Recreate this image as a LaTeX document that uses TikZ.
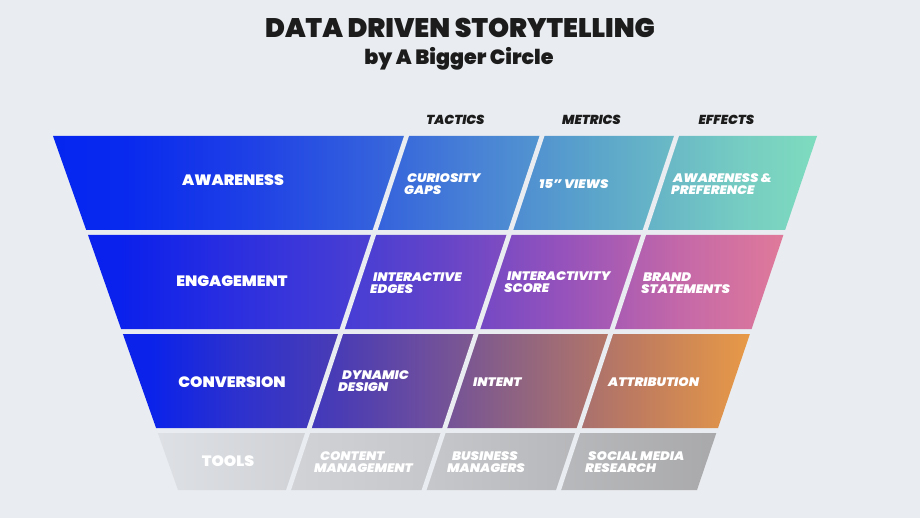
\documentclass[tikz,border=0pt]{standalone}
\usepackage{fontspec}
\setmainfont{Poppins}
\newfontfamily\pblack{Poppins Black}
\newfontfamily\pblackw{Poppins Black}[FakeStretch=1.05]
\newfontfamily\pblackit{Poppins Black Italic}
\newfontfamily\pblackitw{Poppins Black Italic}[FakeStretch=1.07]
\definecolor{bg}{HTML}{E9ECF0}
\definecolor{ink}{HTML}{1C1C1C}
% row 1
\definecolor{ra1}{HTML}{0526EF}\definecolor{ra2}{HTML}{0829EE}\definecolor{ra3}{HTML}{1E40E6}
\definecolor{ra4}{HTML}{3563DC}\definecolor{ra5}{HTML}{4780D6}\definecolor{ra6}{HTML}{5CA6CA}
\definecolor{ra7}{HTML}{76CCC2}\definecolor{ra8}{HTML}{7EDCBE}
% row 2
\definecolor{rb1}{HTML}{0A20EC}\definecolor{rb3}{HTML}{2A2EE0}\definecolor{rb4}{HTML}{4C3FD2}
\definecolor{rb5}{HTML}{6444C8}\definecolor{rb6}{HTML}{9452BC}\definecolor{rb7}{HTML}{C468A8}
\definecolor{rb8}{HTML}{E07A9A}
% row 3
\definecolor{rc1}{HTML}{0A22EA}\definecolor{rc3}{HTML}{2A30D0}\definecolor{rc4}{HTML}{4A3CB4}
\definecolor{rc5}{HTML}{6A4CA0}\definecolor{rc6}{HTML}{906480}\definecolor{rc7}{HTML}{C07C5E}
\definecolor{rc8}{HTML}{E89A46}
% row 4
\definecolor{rd1}{HTML}{DDE0E4}\definecolor{rd2}{HTML}{D0D2D6}\definecolor{rd3}{HTML}{C6C7CA}
\definecolor{rd4}{HTML}{B8B9BC}\definecolor{rd5}{HTML}{A9A9AB}
\pgfdeclarehorizontalshading{rowA}{100bp}{color(0bp)=(ra1); color(25bp)=(ra1); color(29.4bp)=(ra2);
  color(37.9bp)=(ra3); color(46.4bp)=(ra4); color(52.3bp)=(ra5); color(60.8bp)=(ra6);
  color(70bp)=(ra7); color(75bp)=(ra8); color(100bp)=(ra8)}
\pgfdeclarehorizontalshading{rowB}{100bp}{color(0bp)=(rb1); color(27.3bp)=(rb1);
  color(35.2bp)=(rb3); color(45.3bp)=(rb4); color(50.3bp)=(rb5); color(58.9bp)=(rb6);
  color(67.6bp)=(rb7); color(75bp)=(rb8); color(100bp)=(rb8)}
\pgfdeclarehorizontalshading{rowC}{100bp}{color(0bp)=(rc1); color(27.2bp)=(rc1);
  color(33.5bp)=(rc3); color(42.3bp)=(rc4); color(48.7bp)=(rc5); color(56.7bp)=(rc6);
  color(66.2bp)=(rc7); color(75bp)=(rc8); color(100bp)=(rc8)}
\pgfdeclarehorizontalshading{rowD}{100bp}{color(0bp)=(rd1); color(25bp)=(rd1);
  color(37.7bp)=(rd2); color(49.4bp)=(rd3); color(61bp)=(rd4); color(75bp)=(rd5); color(100bp)=(rd5)}
\begin{document}
\begin{tikzpicture}[x=1pt,y=-1pt,
  rowtitle/.style={text=white, font=\pblackw\fontsize{15}{15}\selectfont, inner sep=0pt},
  celltext/.style={text=white, font=\pblackitw\fontsize{12.3}{11.8}\selectfont, align=left, anchor=west, inner sep=0pt},
  header/.style={text=ink, font=\pblackit\fontsize{13}{13}\selectfont, inner sep=0pt},
  gapline/.style={draw=bg, line width=4.7pt}]
\fill[bg] (0,0) rectangle (920,518);
\useasboundingbox (0,0) rectangle (920,518);
% title
\node[text=ink, font=\pblack\fontsize{26.8}{26.8}\selectfont, inner sep=0pt] (title) at (460,28) {DATA DRIVEN STORYTELLING};
\node[text=ink, font=\pblack\fontsize{20.6}{20.6}\selectfont, inner sep=0pt, anchor=base] (subtitle) at (459,65) {by A Bigger Circle};
% headers
\node[header] (tactics) at (455.5,120) {TACTICS};
\node[header] (metrics) at (591.5,120) {METRICS};
\node[header] (effects) at (726.5,120) {EFFECTS};
% rows
\shade[shading=rowA] (53,136) -- (817,136) -- (785.1,230) -- (86.2,230) -- cycle;
\shade[shading=rowB] (88,235) -- (783.4,235) -- (751.6,329) -- (121.1,329) -- cycle;
\shade[shading=rowC] (122.9,334) -- (749.9,334) -- (718,428) -- (156.1,428) -- cycle;
\shade[shading=rowD] (157.8,433) -- (716.3,433) -- (697,490) -- (178,490) -- cycle;
% slanted gaps
\draw[gapline] (408.5,130) -- (286.6,496);
\draw[gapline] (544,130) -- (422.1,496);
\draw[gapline] (678.5,130) -- (556.6,496);
% row titles
\node[rowtitle] (aw) at (233,180) {AWARENESS};
\node[rowtitle] (en) at (232,281) {ENGAGEMENT};
\node[rowtitle] (co) at (232,382) {CONVERSION};
\node[rowtitle] (to) at (228,461) {TOOLS};
% cells
\node[celltext] (c11) at (404,184.5) {\hspace*{3pt}CURIOSITY\\GAPS};
\node[celltext] (c12) at (539,184) {15” VIEWS};
\node[celltext] (c13) at (671,184.5) {\hspace*{2pt}AWARENESS \&\\PREFERENCE};
\node[celltext] (c21) at (370,283) {\hspace*{3pt}INTERACTIVE\\EDGES};
\node[celltext] (c22) at (504,282.5) {\hspace*{3pt}INTERACTIVITY\\SCORE};
\node[celltext] (c23) at (641,283) {\hspace*{2pt}BRAND\\STATEMENTS};
\node[celltext] (c31) at (338,381) {\hspace*{4pt}DYNAMIC\\DESIGN};
\node[celltext] (c32) at (473,382) {INTENT};
\node[celltext] (c33) at (608,382) {ATTRIBUTION};
\node[celltext] (c41) at (314,462) {\hspace*{6pt}CONTENT\\MANAGEMENT};
\node[celltext] (c42) at (447,462) {\hspace*{5pt}BUSINESS\\MANAGERS};
\node[celltext] (c43) at (585,462) {\hspace*{3pt}SOCIAL MEDIA\\RESEARCH};
\end{tikzpicture}
\end{document}
